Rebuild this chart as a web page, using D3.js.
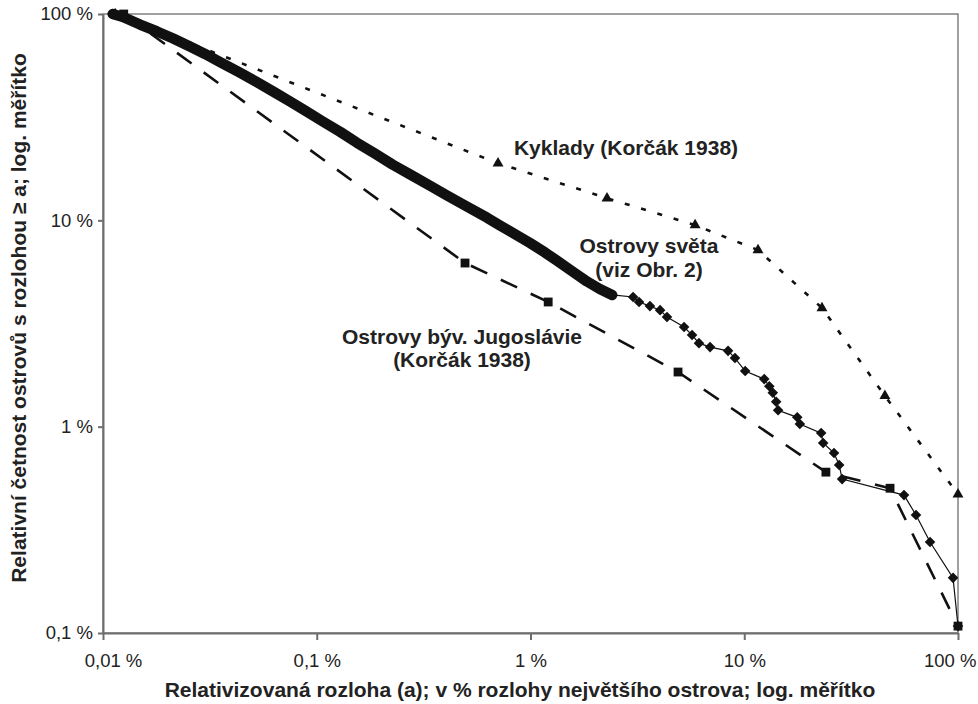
<!DOCTYPE html>
<html>
<head>
<meta charset="utf-8">
<script src="https://cdn.jsdelivr.net/npm/d3@7"></script>
<style>
body { margin: 0; background: #fff; }
text { font-family: "Liberation Sans", Arial, sans-serif; }
</style>
</head>
<body>
<div id="chart"></div>
<script>
// Ostrovy světa (viz Obr. 2): relative area in % of the largest island, relative frequency in %
var worldArea = [0.0111, 0.0124, 0.0149, 0.0179, 0.0213, 0.0255, 0.0300, 0.0353, 0.0437, 0.0525,
    0.0638, 0.0750, 0.0881, 0.107, 0.129, 0.154, 0.187, 0.227, 0.273, 0.339,
    0.407, 0.494, 0.626, 0.720, 0.828, 0.995, 1.17, 1.33, 1.56, 1.84,
    2.11, 2.41, 3.02, 3.22, 3.62, 4.04, 4.35, 5.23, 5.70, 6.14,
    6.92, 8.40, 9.05, 10.1, 12.4, 13.1, 13.6, 14.1, 14.4, 17.7,
    18.2, 22.9, 23.4, 26.3, 27.8, 28.7, 55.9, 63.6, 74.0, 94.8, 100];
var worldFreq = [100, 96.7, 88.9, 82.3, 76.1, 69.6, 64.0, 58.5, 52.0, 46.8,
    41.6, 37.7, 34.1, 30.1, 26.8, 23.8, 21.1, 18.6, 16.7, 14.7,
    13.2, 11.8, 10.3, 9.44, 8.68, 7.76, 6.98, 6.38, 5.68, 5.05,
    4.65, 4.35, 4.25, 4.02, 3.84, 3.67, 3.40, 3.04, 2.78, 2.54,
    2.43, 2.33, 2.15, 1.86, 1.70, 1.57, 1.46, 1.32, 1.20, 1.11,
    1.03, 0.931, 0.833, 0.745, 0.652, 0.557, 0.466, 0.373, 0.276, 0.185, 0.108];
// first points of the world series lie so close that the markers merge into a band
var worldDenseCount = 32;

// Kyklady (Korčák 1938)
var kykladyArea = [0.0114, 0.705, 2.28, 5.89, 11.6, 23.1, 45.5, 100];
var kykladyFreq = [100, 18.9, 12.8, 9.48, 7.18, 3.76, 1.41, 0.47];

// Ostrovy býv. Jugoslávie (Korčák 1938)
var jugoArea = [0.0125, 0.494, 1.21, 4.90, 24.1, 48.1, 100];
var jugoFreq = [100, 6.21, 4.02, 1.84, 0.602, 0.503, 0.108];

var xTicks = [0.01, 0.1, 1, 10, 100];
var xTickLabels = ["0,01 %", "0,1 %", "1 %", "10 %", "100 %"];
var yTicks = [0.1, 1, 10, 100];
var yTickLabels = ["0,1 %", "1 %", "10 %", "100 %"];

var svgWidth = 978;
var svgHeight = 704;
var margin = { top: 14, right: 20, bottom: 71, left: 103 };
var width = svgWidth - margin.left - margin.right;
var height = svgHeight - margin.top - margin.bottom;

var axisColor = "#6e6e6e";
var inkColor = "#111";

var svg = d3.select("#chart")
    .append("svg")
    .attr("width", svgWidth)
    .attr("height", svgHeight);

var chartGroup = svg.append("g")
    .attr("transform", `translate(${margin.left}, ${margin.top})`);

// scales
var xLogScale = d3.scaleLog().domain([0.01, 100]).range([0, width]);
var yLogScale = d3.scaleLog().domain([0.1, 100]).range([height, 0]);

function zip(xs, ys) {
    return xs.map(function(v, i) { return { x: v, y: ys[i] }; });
}
var worldData = zip(worldArea, worldFreq);
var kykladyData = zip(kykladyArea, kykladyFreq);
var jugoData = zip(jugoArea, jugoFreq);

// plot frame
chartGroup.append("rect")
    .attr("x", 0).attr("y", 0)
    .attr("width", width).attr("height", height)
    .attr("fill", "none")
    .attr("stroke", axisColor)
    .attr("stroke-width", 1.3);

// axes
var bottomAxis = d3.axisBottom(xLogScale)
    .tickValues(xTicks)
    .tickFormat(function(d, i) { return xTickLabels[i]; })
    .tickSizeInner(7).tickSizeOuter(0).tickPadding(14);
var leftAxis = d3.axisLeft(yLogScale)
    .tickValues(yTicks)
    .tickFormat(function(d, i) { return yTickLabels[i]; })
    .tickSizeInner(5).tickSizeOuter(0).tickPadding(5);

var xAxisG = chartGroup.append("g")
    .attr("transform", `translate(0, ${height})`)
    .call(bottomAxis);
var yAxisG = chartGroup.append("g")
    .call(leftAxis);

[xAxisG, yAxisG].forEach(function(g) {
    g.select(".domain").attr("stroke", axisColor).attr("stroke-width", 2);
    g.selectAll(".tick line").attr("stroke", axisColor).attr("stroke-width", 2);
    g.selectAll(".tick text")
        .attr("fill", "#222")
        .style("font-size", "18.5px")
        .style("font-family", "'Liberation Sans', Arial, sans-serif");
});
// first and last x labels pushed inwards, as in the source
xAxisG.selectAll(".tick text")
    .filter(function(d) { return d === 0.01; })
    .attr("x", 10);
xAxisG.selectAll(".tick text")
    .filter(function(d) { return d === 100; })
    .attr("text-anchor", "end")
    .attr("x", 18);

var line = d3.line()
    .x(d => xLogScale(d.x))
    .y(d => yLogScale(d.y));

// Jugoslávie - dashed with squares
chartGroup.append("path")
    .datum(jugoData)
    .attr("d", line)
    .attr("fill", "none")
    .attr("stroke", inkColor)
    .attr("stroke-width", 2.6)
    .attr("stroke-dasharray", "18,15");

// Kyklady - dotted with triangles
chartGroup.append("path")
    .datum(kykladyData)
    .attr("d", line)
    .attr("fill", "none")
    .attr("stroke", inkColor)
    .attr("stroke-width", 2.6)
    .attr("stroke-dasharray", "5,12");

// world islands - thin line, merged band of markers, diamonds
chartGroup.append("path")
    .datum(worldData)
    .attr("d", line)
    .attr("fill", "none")
    .attr("stroke", inkColor)
    .attr("stroke-width", 1.2);

chartGroup.append("path")
    .datum(worldData.slice(0, worldDenseCount))
    .attr("d", line)
    .attr("fill", "none")
    .attr("stroke", inkColor)
    .attr("stroke-width", 10.5)
    .attr("stroke-linecap", "round")
    .attr("stroke-linejoin", "round");

var diamond = d3.symbol().type(d3.symbolSquare).size(56);
chartGroup.selectAll(".world-pt")
    .data(worldData)
    .enter()
    .append("path")
    .attr("class", "world-pt")
    .attr("d", diamond)
    .attr("transform", d => `translate(${xLogScale(d.x)}, ${yLogScale(d.y)}) rotate(45)`)
    .attr("fill", inkColor);

var square = d3.symbol().type(d3.symbolSquare).size(78);
chartGroup.selectAll(".jugo-pt")
    .data(jugoData)
    .enter()
    .append("path")
    .attr("class", "jugo-pt")
    .attr("d", square)
    .attr("transform", d => `translate(${xLogScale(d.x)}, ${yLogScale(d.y)})`)
    .attr("fill", inkColor);

var triangle = d3.symbol().type(d3.symbolTriangle).size(52);
chartGroup.selectAll(".kyk-pt")
    .data(kykladyData)
    .enter()
    .append("path")
    .attr("class", "kyk-pt")
    .attr("d", triangle)
    .attr("transform", d => `translate(${xLogScale(d.x)}, ${yLogScale(d.y)})`)
    .attr("fill", inkColor);

// series labels
function label(lines, x, y, gap) {
    var t = svg.append("text")
        .attr("x", x).attr("y", y)
        .attr("text-anchor", "middle")
        .style("font-size", "21px")
        .style("font-weight", "bold")
        .attr("fill", "#222");
    lines.forEach(function(s, i) {
        t.append("tspan").attr("x", x).attr("dy", i === 0 ? 0 : gap).text(s);
    });
}
label(["Kyklady (Korčák 1938)"], 626, 155, 0);
label(["Ostrovy světa", "(viz Obr. 2)"], 649, 253, 24);
label(["Ostrovy býv. Jugoslávie", "(Korčák 1938)"], 462, 344, 23);

// axis titles
svg.append("text")
    .attr("transform", "translate(26, 318) rotate(-90)")
    .attr("text-anchor", "middle")
    .style("font-size", "21px")
    .style("font-weight", "bold")
    .attr("fill", "#222")
    .text("Relativní četnost ostrovů s rozlohou ≥ a; log. měřítko");

svg.append("text")
    .attr("x", 520)
    .attr("y", 697)
    .attr("text-anchor", "middle")
    .style("font-size", "21px")
    .style("font-weight", "bold")
    .attr("fill", "#222")
    .text("Relativizovaná rozloha (a); v % rozlohy největšího ostrova; log. měřítko");
</script>
</body>
</html>
